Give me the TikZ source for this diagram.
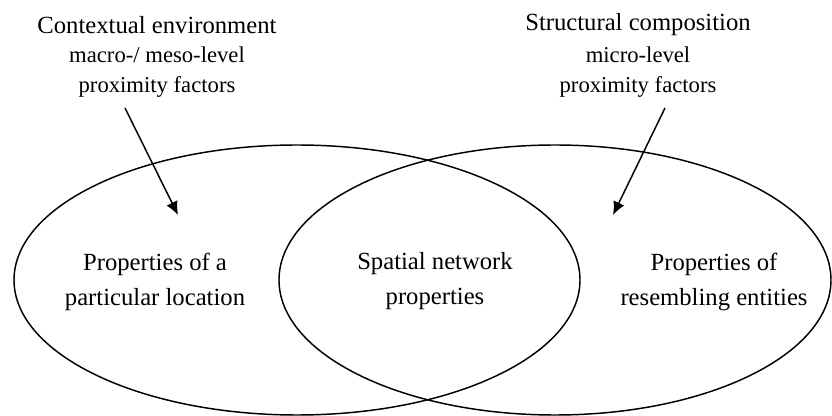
\documentclass[tikz,border=0pt]{standalone}
\usepackage{fontspec}
\setmainfont{Liberation Serif}
\usetikzlibrary{shapes, arrows.meta, positioning}

\begin{document}
\begin{tikzpicture}[x=0.75pt,y=-0.75pt]
        \useasboundingbox (0,0) rectangle (832,416);
        \begin{scope}[every node/.style={draw,ellipse,line width=1.1pt,inner sep=0pt,minimum height=202.5pt}]
          \node[minimum width=424.5pt] (loc) at (297,280) {};
          \node[minimum width=414pt] (ent) at (555,280) {};
        \end{scope}
        \begin{scope}[every node/.style={align=center,inner sep=0pt,font=\rmfamily\fontsize{18.5}{26}\selectfont}]
          \node (loctext) at (155,282) {Properties of a\\particular location};
          \node (nettext) at (435,281) {Spatial network\\properties};
          \node (enttext) at (714,282) {Properties of\\resembling entities};
          \node (ctxhead) at (157,25) {Contextual environment};
          \node (strhead) at (638,25) {Structural composition};
        \end{scope}
        \begin{scope}[every node/.style={align=center,inner sep=0pt,font=\rmfamily\fontsize{17}{22.5}\selectfont}]
          \node (ctxsub) at (157,72) {macro-/ meso-level\\proximity factors};
          \node (strsub) at (638,72) {micro-level\\proximity factors};
        \end{scope}
        \coordinate (ctxtail) at (125,108);
        \coordinate (ctxtip) at (178,215);
        \coordinate (strtail) at (665,108);
        \coordinate (strtip) at (613,215);
        \begin{scope}[every path/.style={draw=black,line width=1.1pt,-{Latex[length=10pt,width=9pt]}}]
          \path (ctxtail) -- (ctxtip);
          \path (strtail) -- (strtip);
        \end{scope}
      \end{tikzpicture}
\end{document}
